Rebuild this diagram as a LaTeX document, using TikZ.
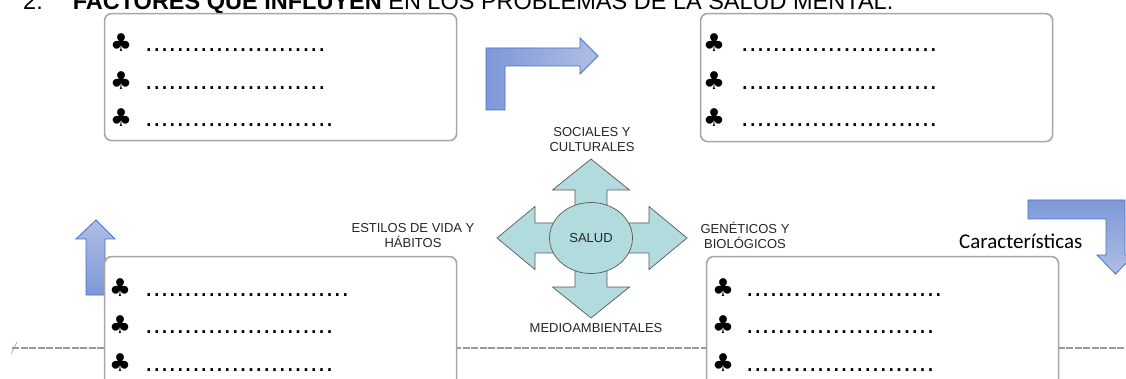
\documentclass[tikz,border=0pt]{standalone}
\usepackage{fontspec}
\setmainfont{Liberation Sans}
\newfontfamily\clubfont{DejaVu Sans}
\newfontfamily\calibrifont{Carlito}
\usetikzlibrary{positioning,shapes.geometric}
\definecolor{arrowEdge}{HTML}{4472C4}
\definecolor{arrowDark}{HTML}{7E98D8}
\definecolor{arrowLight}{HTML}{B0BEE3}
\definecolor{crossFill}{HTML}{B2DBDE}
\definecolor{boxLine}{HTML}{A6A6A6}
\newcommand{\blanks}[1]{\foreach \k in {1,...,#1}{\makebox[7.85pt][l]{.}}}
\newcommand{\club}{{\clubfont\fontsize{24.5}{24}\selectfont ♣}}
\newcommand{\clubrow}[2]{\makebox[#1][l]{\club}\blanks{#2}}
\tikzset{
  card/.style={draw=boxLine,line width=1.6pt,rounded corners=7pt,fill=white,anchor=north west,inner sep=0pt,minimum width=352pt},
  row/.style={anchor=base west,inner sep=0pt,font=\fontsize{27}{27}\selectfont},
  factor/.style={align=center,font=\fontsize{13}{15}\selectfont,text=black!85,inner sep=0pt},
  bluearrow/.style={draw=arrowEdge,line width=0.8pt},
  hatch/.style={draw=black!40,line width=2.5pt,dash pattern=on 7pt off 1.5pt},
}
\begin{document}
\begin{tikzpicture}[x=1pt,y=-1pt]
\useasboundingbox (0,0) rectangle (1126,379);
\fill[white] (0,0) rectangle (1126,379);

% title
\node[anchor=base west,inner sep=0pt,font=\fontsize{23.5}{28}\selectfont] (title) at (23,9.5)
  {2.\hskip 30pt\textbf{FACTORES QUE INFLUYEN} EN LOS PROBLEMAS DE LA SALUD MENTAL.};

% page break line
\draw[hatch] (12,348) -- (1126,348);
\draw[black!40,line width=0.6pt] (11,354) -- (17,342);

% blue arrows
\path[bluearrow,top color=arrowLight,bottom color=arrowDark]
  (96,220) -- (115,239) -- (105,239) -- (105,295) -- (86,295) -- (86,239) -- (76,239) -- cycle;
\path[bluearrow,left color=arrowDark,right color=arrowLight]
  (486,110) -- (486,48) -- (580,48) -- (580,38) -- (598,56) -- (580,74) -- (580,66) -- (505,66) -- (505,110) -- cycle;
\path[bluearrow,top color=arrowDark,bottom color=arrowLight]
  (1028,200) -- (1125,200) -- (1125,255) -- (1134,255) -- (1115.5,274) -- (1097,255) -- (1106,255) -- (1106,219) -- (1028,219) -- cycle;

% boxes
\node[card,minimum height=127pt] (tl) at (103.8,12.8) {};
\node[card,minimum height=128pt] (tr) at (699.8,12.8) {};
\node[card,minimum height=150pt] (bl) at (103.8,255.8) {};
\node[card,minimum height=150pt] (br) at (705.8,255.8) {};

% rows
\node[row] (tl1) at (110,52) {\clubrow{35pt}{23}};
\node[row] (tl2) at (110,90) {\clubrow{35pt}{23}};
\node[row] (tl3) at (110,127) {\clubrow{35pt}{24}};
\node[row] (tr1) at (703,52) {\clubrow{38pt}{25}};
\node[row] (tr2) at (703,90) {\clubrow{38pt}{25}};
\node[row] (tr3) at (703,127) {\clubrow{38pt}{25}};
\node[row] (bl1) at (109,296) {\clubrow{36pt}{26}};
\node[row] (bl2) at (109,333) {\clubrow{36pt}{24}};
\node[row] (bl3) at (109,371) {\clubrow{36pt}{24}};
\node[row] (br1) at (712,296) {\clubrow{34pt}{25}};
\node[row] (br2) at (712,333) {\clubrow{34pt}{24}};
\node[row] (br3) at (712,371) {\clubrow{34pt}{24}};

% central cross
\begin{scope}[shift={(591,238)}]
\draw[fill=crossFill,draw=black!65,line width=0.7pt]
  (0,-79) -- (38.5,-48) -- (16,-48) -- (16,-15) -- (58,-15) -- (58,-31.5) -- (96,0)
  -- (58,31.5) -- (58,15) -- (16,15) -- (16,49) -- (38.5,49) -- (0,80) -- (-38.5,49)
  -- (-16,49) -- (-16,15) -- (-56,15) -- (-56,31.5) -- (-94,0) -- (-56,-31.5)
  -- (-56,-15) -- (-16,-15) -- (-16,-48) -- (-38.5,-48) -- cycle;
\end{scope}
\node[ellipse,draw=black!65,line width=0.7pt,fill=crossFill,minimum width=83pt,minimum height=71pt,inner sep=0pt,font=\fontsize{13}{15}\selectfont,text=black!85] (salud) at (591,238) {SALUD};

% labels
\node[factor] (soc) at (592,139.5) {SOCIALES Y\\CULTURALES};
\node[factor] (est) at (413,235.5) {ESTILOS DE VIDA Y\\HÁBITOS};
\node[factor] (gen) at (745,235.5) {GENÉTICOS Y\\BIOLÓGICOS};
\node[factor] (med) at (596,328) {MEDIOAMBIENTALES};
\node[anchor=base west,inner sep=0pt,font=\calibrifont\fontsize{21}{25}\selectfont] (car) at (959,248) {Características};
\end{tikzpicture}
\end{document}
